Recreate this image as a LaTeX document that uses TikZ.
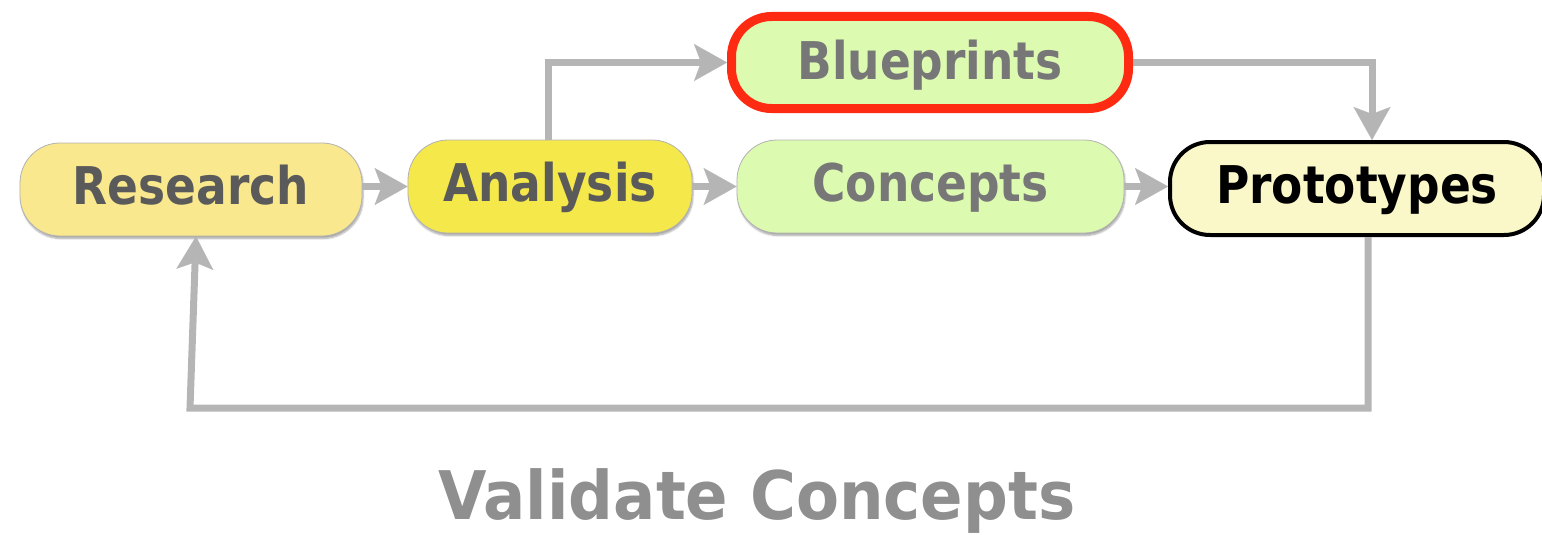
\documentclass[tikz,border=0pt]{standalone}
\usepackage{fontspec}
\usetikzlibrary{arrows.meta,shadows.blur,calc}
\newfontfamily\nodefont{DejaVu Sans}[FakeStretch=0.875]
\newfontfamily\titlefont{DejaVu Sans}[FakeStretch=0.935]
\definecolor{arrgray}{HTML}{B5B5B5}
\definecolor{resfill}{HTML}{FAE88E}
\definecolor{anafill}{HTML}{F5E84A}
\definecolor{grnfill}{HTML}{DDFBB0}
\definecolor{profill}{HTML}{FAF8C8}
\definecolor{bpred}{HTML}{FF2A12}
\definecolor{darktxt}{HTML}{5A5A5A}
\definecolor{midtxt}{HTML}{777777}
\definecolor{titletxt}{HTML}{8F8F8F}
\tikzset{
  box/.style={rounded corners=40pt, inner sep=0pt, minimum height=93pt,
    font=\nodefont\bfseries\fontsize{52}{60}\selectfont,
    text height=29pt, text depth=0pt},
  softbox/.style={box, draw=black!30, line width=0.8pt,
    blur shadow={shadow xshift=1pt, shadow yshift=-2.5pt, shadow blur steps=6, shadow opacity=35}},
  flow/.style={draw=arrgray, line width=7pt,
    -{Stealth[length=33pt,width=37pt,inset=7pt,line width=0.1pt,fill=arrgray,color=arrgray]}},
}
\begin{document}
\begin{tikzpicture}[x=1pt,y=-1pt]
\useasboundingbox (0,0) rectangle (1542,535);
\node[softbox, fill=resfill, text=darktxt, minimum width=342pt] (research) at (191,189.5) {Research};
\node[softbox, fill=anafill, text=darktxt, minimum width=284pt] (analysis) at (550,186.5) {Analysis};
\node[softbox, fill=grnfill, text=midtxt, minimum width=387pt] (concepts) at (930.5,186.5) {Concepts};
\node[box, fill=grnfill, draw=bpred, line width=9pt, text=midtxt, minimum width=397pt, minimum height=92pt, text height=33pt] (blueprints) at (930,62.5) {Blueprints};
\node[box, fill=profill, draw=black, line width=4pt, text=black, minimum width=374pt] (prototypes) at (1357,188.5) {Prototypes};
\node[font=\titlefont\bfseries\fontsize{67}{80}\selectfont, text=titletxt, text height=48pt, text depth=0pt, inner sep=0pt] (title) at (757,495) {Validate Concepts};
\coordinate (loopc) at (190,408);
\draw[flow] (research.east |- analysis.west) -- (analysis.west);
\draw[flow] (analysis.east) -- (concepts.west);
\draw[flow] (concepts.east) -- (concepts.east -| prototypes.west);
\draw[flow] ([xshift=-2pt]analysis.north) |- (blueprints.west);
\draw[flow] (blueprints.east) -| ([xshift=15pt]prototypes.north);
\draw[flow] ([xshift=11pt]prototypes.south) |- (loopc) -- ([xshift=5pt]research.south);
\end{tikzpicture}
\end{document}
